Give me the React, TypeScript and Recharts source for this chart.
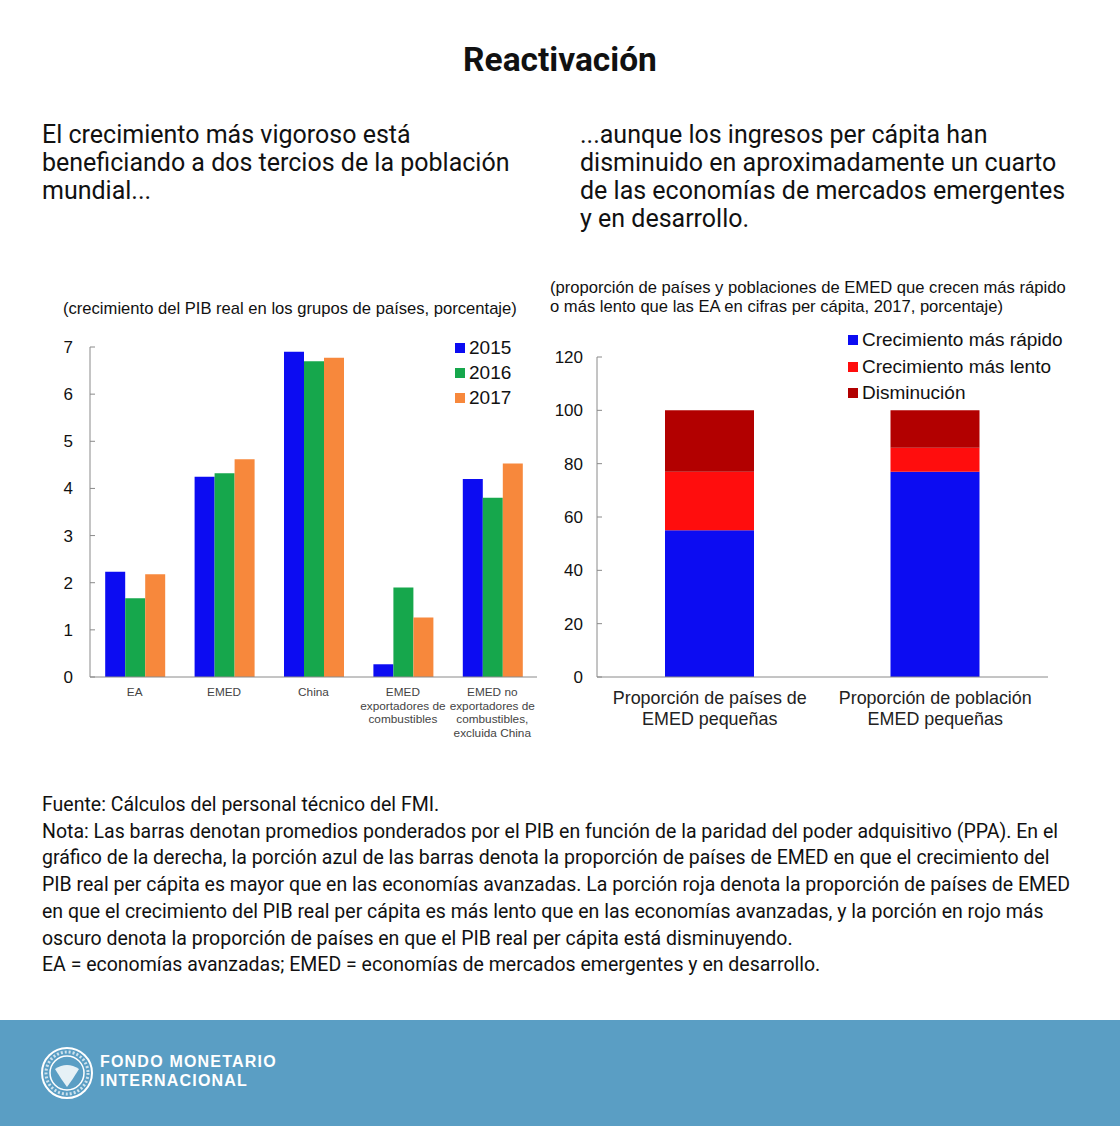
import React from 'react';
import { BarChart, Bar, XAxis, YAxis } from 'recharts';

// left chart: real GDP growth by country group (%)
const groupLabels = [
  'EA',
  'EMED',
  'China',
  'EMED\nexportadores de\ncombustibles',
  'EMED no\nexportadores de\ncombustibles,\nexcluida China',
];
const growth2015 = [2.23, 4.25, 6.9, 0.27, 4.2];
const growth2016 = [1.67, 4.32, 6.7, 1.9, 3.8];
const growth2017 = [2.18, 4.62, 6.77, 1.26, 4.53];
const growthTicks = [0, 1, 2, 3, 4, 5, 6, 7];
const groupSeparators = [1, 2, 3, 4];

// right chart: share of small EMED countries / population vs EA (%)
const shareLabels = ['Proporción de países de\nEMED pequeñas', 'Proporción de población\nEMED pequeñas'];
const fasterShare = [55, 77];
const slowerShare = [22, 9];
const decliningShare = [23, 14];
const shareTicks = [0, 20, 40, 60, 80, 100, 120];

const noteLines = [
  'Fuente: Cálculos del personal técnico del FMI.',
  'Nota: Las barras denotan promedios ponderados por el PIB en función de la paridad del poder adquisitivo (PPA). En el',
  'gráfico de la derecha, la porción azul de las barras denota la proporción de países de EMED en que el crecimiento del',
  'PIB real per cápita es mayor que en las economías avanzadas. La porción roja denota la proporción de países de EMED',
  'en que el crecimiento del PIB real per cápita es más lento que en las economías avanzadas, y la porción en rojo más',
  'oscuro denota la proporción de países en que el PIB real per cápita está disminuyendo.',
  'EA = economías avanzadas; EMED = economías de mercados emergentes y en desarrollo.',
];

const BLUE = '#0c0cf2';
const GREEN = '#16a74c';
const ORANGE = '#f7883c';
const RED = '#ff0d0d';
const DARK_RED = '#b20000';
const AXIS = '#8a8a8a';
const CHART_FONT = '"Liberation Sans", Arial, sans-serif';
const TEXT_FONT = 'Roboto, "Noto Sans", sans-serif';

const growthSeries = [
  { key: 'y2015', name: '2015', color: BLUE },
  { key: 'y2016', name: '2016', color: GREEN },
  { key: 'y2017', name: '2017', color: ORANGE },
];
const shareSeries = [
  { key: 'faster', name: 'Crecimiento más rápido', color: BLUE },
  { key: 'slower', name: 'Crecimiento más lento', color: RED },
  { key: 'declining', name: 'Disminución', color: DARK_RED },
];

const growthData = groupLabels.map((name, i) => ({
  name,
  y2015: growth2015[i],
  y2016: growth2016[i],
  y2017: growth2017[i],
}));

const shareData = shareLabels.map((name, i) => ({
  name,
  faster: fasterShare[i],
  slower: slowerShare[i],
  declining: decliningShare[i],
}));

const MultiLineTick = ({ x, y, payload, fontSize, lineHeight, fill, dy }: any) => {
  const lines = String(payload.value).split('\n');
  return (
    <text x={x} y={y + dy} textAnchor="middle" fontSize={fontSize} fill={fill} fontFamily={CHART_FONT}>
      {lines.map((l, i) => (
        <tspan key={i} x={x} dy={i === 0 ? 0 : lineHeight}>{l}</tspan>
      ))}
    </text>
  );
};

const SeriesLegend = ({ items, left, top, fontSize, rowHeight, box }: any) => (
  <div style={{ position: 'absolute', left, top, fontFamily: CHART_FONT, fontSize, color: '#111' }}>
    {items.map((it: any) => (
      <div key={it.key} style={{ display: 'flex', alignItems: 'center', height: rowHeight, whiteSpace: 'nowrap' }}>
        <span style={{ width: box, height: box, background: it.color, marginRight: 4, display: 'inline-block' }} />
        {it.name}
      </div>
    ))}
  </div>
);

function GrowthChart() {
  return (
    <BarChart
      width={510}
      height={420}
      data={growthData}
      margin={{ top: 17, right: 13, bottom: 0, left: 0 }}
      barCategoryGap="17%"
      barGap={0}
    >
      <XAxis
        xAxisId="sep"
        type="number"
        domain={[0, 5]}
        ticks={groupSeparators}
        height={0}
        axisLine={false}
        tickSize={-4}
        tickFormatter={() => ''}
        stroke={AXIS}
      />
      <XAxis
        dataKey="name"
        height={73}
        stroke={AXIS}
        tickLine={false}
        interval={0}
        tick={<MultiLineTick fontSize={11.8} lineHeight={13.5} fill="#444" dy={11} />}
      />
      <YAxis
        domain={[0, 7]}
        ticks={growthTicks}
        width={50}
        stroke={AXIS}
        tickSize={-5}
        tickMargin={22}
        tick={{ fontSize: 17, fill: '#111', fontFamily: CHART_FONT }}
      />
      {growthSeries.map((s) => (
        <Bar key={s.key} dataKey={s.key} name={s.name} fill={s.color} isAnimationActive={false} />
      ))}
    </BarChart>
  );
}

function ShareChart() {
  return (
    <BarChart
      width={515}
      height={430}
      data={shareData}
      margin={{ top: 37, right: 12, bottom: 0, left: 0 }}
      barSize={89}
    >
      <XAxis
        xAxisId="sep"
        type="number"
        domain={[0, 2]}
        ticks={[1]}
        height={0}
        axisLine={false}
        tickSize={-4}
        tickFormatter={() => ''}
        stroke={AXIS}
      />
      <XAxis
        dataKey="name"
        height={73}
        stroke={AXIS}
        tickLine={false}
        interval={0}
        tick={<MultiLineTick fontSize={17.9} lineHeight={21} fill="#222" dy={19} />}
      />
      <YAxis
        domain={[0, 120]}
        ticks={shareTicks}
        width={52}
        stroke={AXIS}
        tickSize={-5}
        tickMargin={19}
        tick={{ fontSize: 17, fill: '#111', fontFamily: CHART_FONT }}
      />
      {shareSeries.map((s) => (
        <Bar key={s.key} dataKey={s.key} name={s.name} stackId="s" fill={s.color} isAnimationActive={false} />
      ))}
    </BarChart>
  );
}

export default function App() {
  const abs = (left: number, top: number): React.CSSProperties => ({ position: 'absolute', left, top });
  const brand: React.CSSProperties = {
    position: 'absolute', left: 100, color: '#fff', fontFamily: '"Liberation Sans", Arial, sans-serif',
    fontWeight: 700, fontSize: 16, lineHeight: '16px', height: 16, letterSpacing: 1.2, whiteSpace: 'nowrap',
  };
  return (
    <div style={{ position: 'absolute', left: 0, top: 0, width: 1120, height: 1126, background: '#fff', overflow: 'hidden', fontFamily: TEXT_FONT, color: '#111' }}>
      <div style={{ ...abs(0, 40), width: 1120, textAlign: 'center', fontSize: 33.5, fontWeight: 700, lineHeight: '40px' }}>
        Reactivación
      </div>
      <div style={{ ...abs(42, 121), fontSize: 25, lineHeight: '28px', whiteSpace: 'nowrap' }}>
        El crecimiento más vigoroso está<br />beneficiando a dos tercios de la población<br />mundial...
      </div>
      <div style={{ ...abs(580, 121), fontSize: 25, lineHeight: '28px', whiteSpace: 'nowrap' }}>
        ...aunque los ingresos per cápita han<br />disminuido en aproximadamente un cuarto<br />de las economías de mercados emergentes<br />y en desarrollo.
      </div>

      <div style={{ ...abs(63, 299), fontFamily: CHART_FONT, fontSize: 16.6, lineHeight: '19px', whiteSpace: 'nowrap' }}>
        (crecimiento del PIB real en los grupos de países, porcentaje)
      </div>
      <div style={{ ...abs(550, 278), fontFamily: CHART_FONT, fontSize: 16.6, lineHeight: '19px', whiteSpace: 'nowrap' }}>
        (proporción de países y poblaciones de EMED que crecen más rápido<br />o más lento que las EA en cifras per cápita, 2017, porcentaje)
      </div>

      <div style={abs(40, 330)}>
        <GrowthChart />
      </div>
      <SeriesLegend items={growthSeries} left={455} top={335} fontSize={19} rowHeight={25} box={10} />

      <div style={abs(545, 320)}>
        <ShareChart />
      </div>
      <SeriesLegend items={shareSeries} left={848} top={327} fontSize={19} rowHeight={26.5} box={10} />

      <div style={{ ...abs(42, 792), fontSize: 19.5, lineHeight: '26.7px', whiteSpace: 'nowrap' }}>
        {noteLines.map((l, i) => (
          <div key={i}>{l}</div>
        ))}
      </div>

      <div style={{ ...abs(0, 1020), width: 1120, height: 106, background: '#5a9ec4' }}>
        <svg width={60} height={60} style={{ position: 'absolute', left: 37, top: 23 }}>
          <circle cx={30} cy={30} r={25} fill="none" stroke="#fff" strokeWidth={2} />
          <circle cx={30} cy={30} r={17} fill="none" stroke="#fff" strokeWidth={1.5} />
          <circle cx={30} cy={30} r={21} fill="none" stroke="#fff" strokeWidth={3} strokeDasharray="2 2" opacity={0.7} />
          <path d="M18 26 Q30 18 42 26 Q36 36 30 44 Q24 36 18 26 Z" fill="#fff" opacity={0.85} />
        </svg>
        <div style={{ ...brand, top: 34 }}>FONDO MONETARIO</div>
        <div style={{ ...brand, top: 53 }}>INTERNACIONAL</div>
      </div>
    </div>
  );
}
